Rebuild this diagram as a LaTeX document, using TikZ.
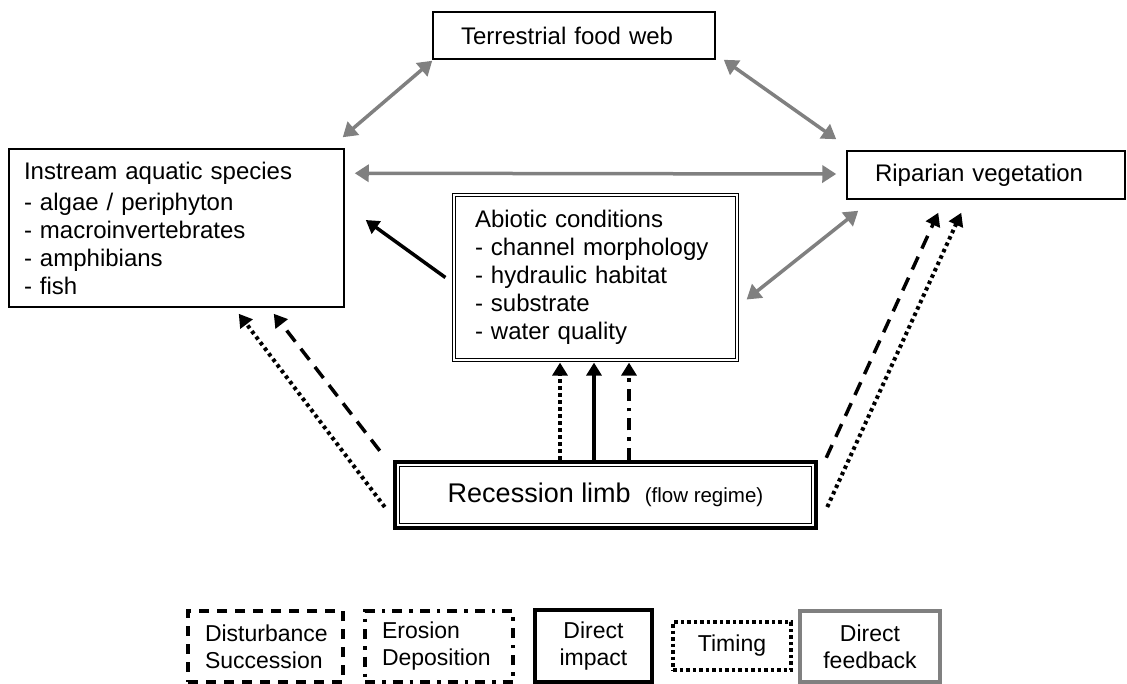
\documentclass[tikz,border=0pt]{standalone}
\usepackage{fontspec}
\setmainfont{Liberation Sans}
\usetikzlibrary{arrows.meta,calc}
\begin{document}
\begin{tikzpicture}[x=1pt,y=-1pt]
\tikzset{
 box/.style={draw, line width=1.5pt, inner ysep=0pt, align=left, font=\fontsize{24}{28}\selectfont},
 fb/.style={draw=black!50, line width=3.5pt, {Triangle[length=14pt,width=17pt]}-{Triangle[length=14pt,width=17pt]}},
 imp/.style={draw=black, line width=3.5pt, -{Triangle[length=13pt,width=15pt]}},
 dsh/.style={imp, dash pattern=on 14pt off 9pt},
 dtt/.style={imp, line width=4pt, dash pattern=on 3.5pt off 3.5pt},
 dshdot/.style={imp, dash pattern=on 12pt off 7pt on 3.5pt off 7pt},
 leg/.style={line width=3.5pt, inner sep=0pt, align=center, font=\fontsize{23}{27}\selectfont},
 legl/.style={leg, align=left, inner xsep=17pt},
}
\useasboundingbox (0,0) rectangle (1127,683);
\fill[white] (0,0) rectangle (1127,683);

% main boxes
\node[box, minimum width=282pt, minimum height=47pt, text width=226pt, inner xsep=28pt] (terr) at (574,35.5) {Terrestrial food web};
\node[box, minimum width=335pt, minimum height=158pt, text width=305pt, inner xsep=15pt] (inst) at (176.5,228)
 {Instream aquatic species\\[3pt]- algae / periphyton\\- macroinvertebrates\\- amphibians\\- fish};
\node[box, minimum width=278pt, minimum height=48pt, text width=222pt, inner xsep=28pt] (rip) at (986,175) {Riparian vegetation};
\node[box, line width=1.2pt, double, double distance=2.2pt, minimum width=283pt, minimum height=165pt, text width=241pt, inner xsep=21pt] (abio) at (595.5,277.5)
 {Abiotic conditions\\- channel morphology\\- hydraulic habitat\\- substrate\\- water quality};
\node[draw, line width=4.5pt, inner sep=0pt, minimum width=421pt, minimum height=66pt, align=center] (rec) at (605.5,495)
 {{\fontsize{27}{30}\selectfont Recession limb}\hspace{14pt}{\fontsize{20.5}{24}\selectfont (flow regime)}};
\draw[line width=1.3pt] ([shift={(6.5,6.5)}]rec.north west) rectangle ([shift={(-6.5,-6.5)}]rec.south east);

% feedback arrows
\draw[fb] ([shift={(0,1)}]terr.south west) -- ([shift={(-2,-11)}]inst.north east);
\draw[fb] ([shift={(8,0)}]terr.south east) -- ([shift={(-10,-11)}]rip.north west);
\draw[fb] ([shift={(10,25)}]inst.north east) -- ([shift={(-10,-1)}]rip.west);
\draw[fb] ([shift={(9,22)}]abio.east) -- ([shift={(12,11)}]rip.south west);

% direct impact abiotic -> instream
\draw[imp] ([shift={(-8,0)}]abio.west) -- ([shift={(21,-8)}]inst.east);

% recession -> abiotic
\coordinate (c1) at (560,0);
\coordinate (c2) at (594,0);
\coordinate (c3) at (629,0);
\draw[dtt, shorten >=2pt] (rec.north -| c1) -- (abio.south -| c1);
\draw[imp, shorten >=2pt] (rec.north -| c2) -- (abio.south -| c2);
\draw[dshdot, shorten >=2pt] (rec.north -| c3) -- (abio.south -| c3);

% recession -> instream
\draw[dtt] ([shift={(-8,12)}]rec.west) -- ([shift={(-106,6)}]inst.south east);
\draw[dsh] ([shift={(-13,-9)}]rec.north west) -- ([shift={(-71,6)}]inst.south east);

% recession -> riparian
\draw[dsh] ([shift={(8,-2)}]rec.north east) -- ([shift={(92,13)}]rip.south west);
\draw[dtt] ([shift={(9,12)}]rec.east) -- ([shift={(115,13)}]rip.south west);

% legend
\node[legl, draw, dash pattern=on 10pt off 8pt, text width=121pt, minimum height=71pt] (ldist) at (265.5,646.5) {Disturbance\\Succession};
\node[legl, draw, dash pattern=on 10pt off 7pt on 3.5pt off 7pt, text width=114pt, minimum height=71pt] (leros) at (439,646.5) {Erosion\\Deposition};
\node[leg, draw, line width=4.5pt, minimum width=117pt, minimum height=72pt] (limp) at (593.5,646) {Direct\\impact};
\node[leg, draw, dash pattern=on 3.5pt off 3pt, minimum width=118pt, minimum height=48pt] (ltim) at (732,646) {Timing};
\node[leg, draw=black!50, line width=4.5pt, minimum width=140pt, minimum height=71pt] (lfb) at (870,646.5) {Direct\\feedback};
\end{tikzpicture}
\end{document}
